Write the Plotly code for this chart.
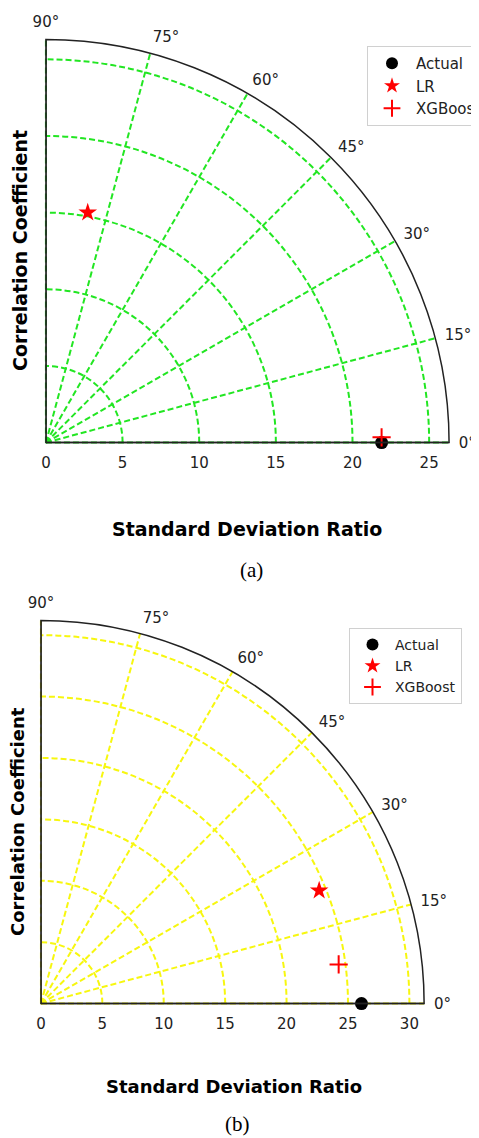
import plotly.graph_objects as go

# ---- data ----
series_names = ["Actual", "LR", "XGBoost"]
# panel (a): standard deviation ratio (r) and angle in degrees (theta)
a_r = [21.9, 15.25, 21.9]
a_theta = [0.0, 79.7, 0.9]
# panel (b)
b_r = [26.1, 24.45, 24.45]
b_theta = [0.0, 22.1, 7.5]

angle_ticks = [0, 15, 30, 45, 60, 75, 90]
angle_labels = [f"{a}°" for a in angle_ticks]
a_radial_ticks = [0, 5, 10, 15, 20, 25]
b_radial_ticks = [0, 5, 10, 15, 20, 25, 30]
RMAX_A = 26.3
RMAX_B = 31.2

W, H = 479, 1138
OX, OY = 8, 8  # page body offset of the plot div

symbols = ["circle", "star", "cross-thin"]
colors = ["black", "red", "red"]
sizes = [13, 14, 13]

fig = go.Figure()


def px(x):
    return (x - OX) / W


def py(y):
    return 1 - (y - OY) / H


def add_panel(r_vals, t_vals, polar, legend, rmax):
    fig.add_trace(go.Scatterpolar(r=[0, rmax], theta=[90, 90], mode="lines",
                                  line=dict(color="#222", width=1.5),
                                  showlegend=False, hoverinfo="skip", subplot=polar))
    for i, name in enumerate(series_names):
        mk = dict(symbol=symbols[i], color=colors[i], size=sizes[i])
        if symbols[i] == "cross-thin":
            mk["line"] = dict(color=colors[i], width=2)
        fig.add_trace(go.Scatterpolar(r=[r_vals[i]], theta=[t_vals[i]], mode="markers",
                                      marker=mk, name=name, subplot=polar, legend=legend))


add_panel(a_r, a_theta, "polar", "legend", RMAX_A)
add_panel(b_r, b_theta, "polar2", "legend2", RMAX_B)


def polar_layout(x0, x1, ytop, ybot, rmax, rticks, gcolor):
    return dict(
        domain=dict(x=[px(x0), px(x1)], y=[py(ybot), py(ytop)]),
        sector=[0, 90],
        bgcolor="white",
        radialaxis=dict(range=[0, rmax], tickvals=rticks, angle=0, side="clockwise",
                        showline=True, linecolor="#222", linewidth=1.5,
                        ticks="outside", ticklen=7, tickcolor="rgba(0,0,0,0)",
                        gridcolor=gcolor, griddash="6px,3px", gridwidth=1.6,
                        tickfont=dict(family="DejaVu Sans", size=15, color="#222"),
                        tickangle=0, layer="above traces"),
        angularaxis=dict(tickvals=angle_ticks, ticktext=angle_labels, direction="counterclockwise",
                         rotation=0, showline=True, linecolor="#222", linewidth=1.5,
                         ticks="outside", ticklen=6, tickcolor="rgba(0,0,0,0)",
                         gridcolor=gcolor, griddash="6px,3px", gridwidth=1.6,
                         tickfont=dict(family="DejaVu Sans", size=15, color="#222"),
                         layer="above traces"),
    )


fig.update_layout(
    width=W, height=H,
    margin=dict(l=0, r=0, t=0, b=0),
    paper_bgcolor="white", plot_bgcolor="white",
    polar=polar_layout(46, 450, 39, 443, RMAX_A, a_radial_ticks, "#22e622"),
    polar2=polar_layout(41, 425, 620, 1004, RMAX_B, b_radial_ticks, "#f7f70f"),
    legend=dict(x=px(368), y=py(46), xanchor="left", yanchor="top",
                bgcolor="white", bordercolor="#d0d0d0", borderwidth=1,
                font=dict(family="DejaVu Sans", size=15, color="#222"),
                itemsizing="constant", itemwidth=38),
    legend2=dict(x=px(349), y=py(628), xanchor="left", yanchor="top",
                 bgcolor="white", bordercolor="#d0d0d0", borderwidth=1,
                 font=dict(family="DejaVu Sans", size=14, color="#222"),
                 itemsizing="constant", itemwidth=35),
)

ann = []
for (x, y, txt, s) in [(248, 529, "Standard Deviation Ratio", 19), (234, 1086, "Standard Deviation Ratio", 18)]:
    ann.append(dict(x=px(x), y=py(y), xref="paper", yref="paper", text="<b>" + txt + "</b>",
                    showarrow=False, font=dict(family="DejaVu Sans", size=s, color="black"),
                    xanchor="center", yanchor="middle"))
for (x, y, txt, s) in [(20, 250, "Correlation Coefficient", 19), (17, 821, "Correlation Coefficient", 18)]:
    ann.append(dict(x=px(x), y=py(y), xref="paper", yref="paper", text="<b>" + txt + "</b>",
                    showarrow=False, textangle=-90, font=dict(family="DejaVu Sans", size=s, color="black"),
                    xanchor="center", yanchor="middle"))
for (x, y, txt) in [(252, 570, "(a)"), (238, 1124, "(b)")]:
    ann.append(dict(x=px(x), y=py(y), xref="paper", yref="paper", text=txt,
                    showarrow=False, font=dict(family="Liberation Serif", size=21, color="black"),
                    xanchor="center", yanchor="middle"))
fig.update_layout(annotations=ann)

fig.write_html("out.html")
